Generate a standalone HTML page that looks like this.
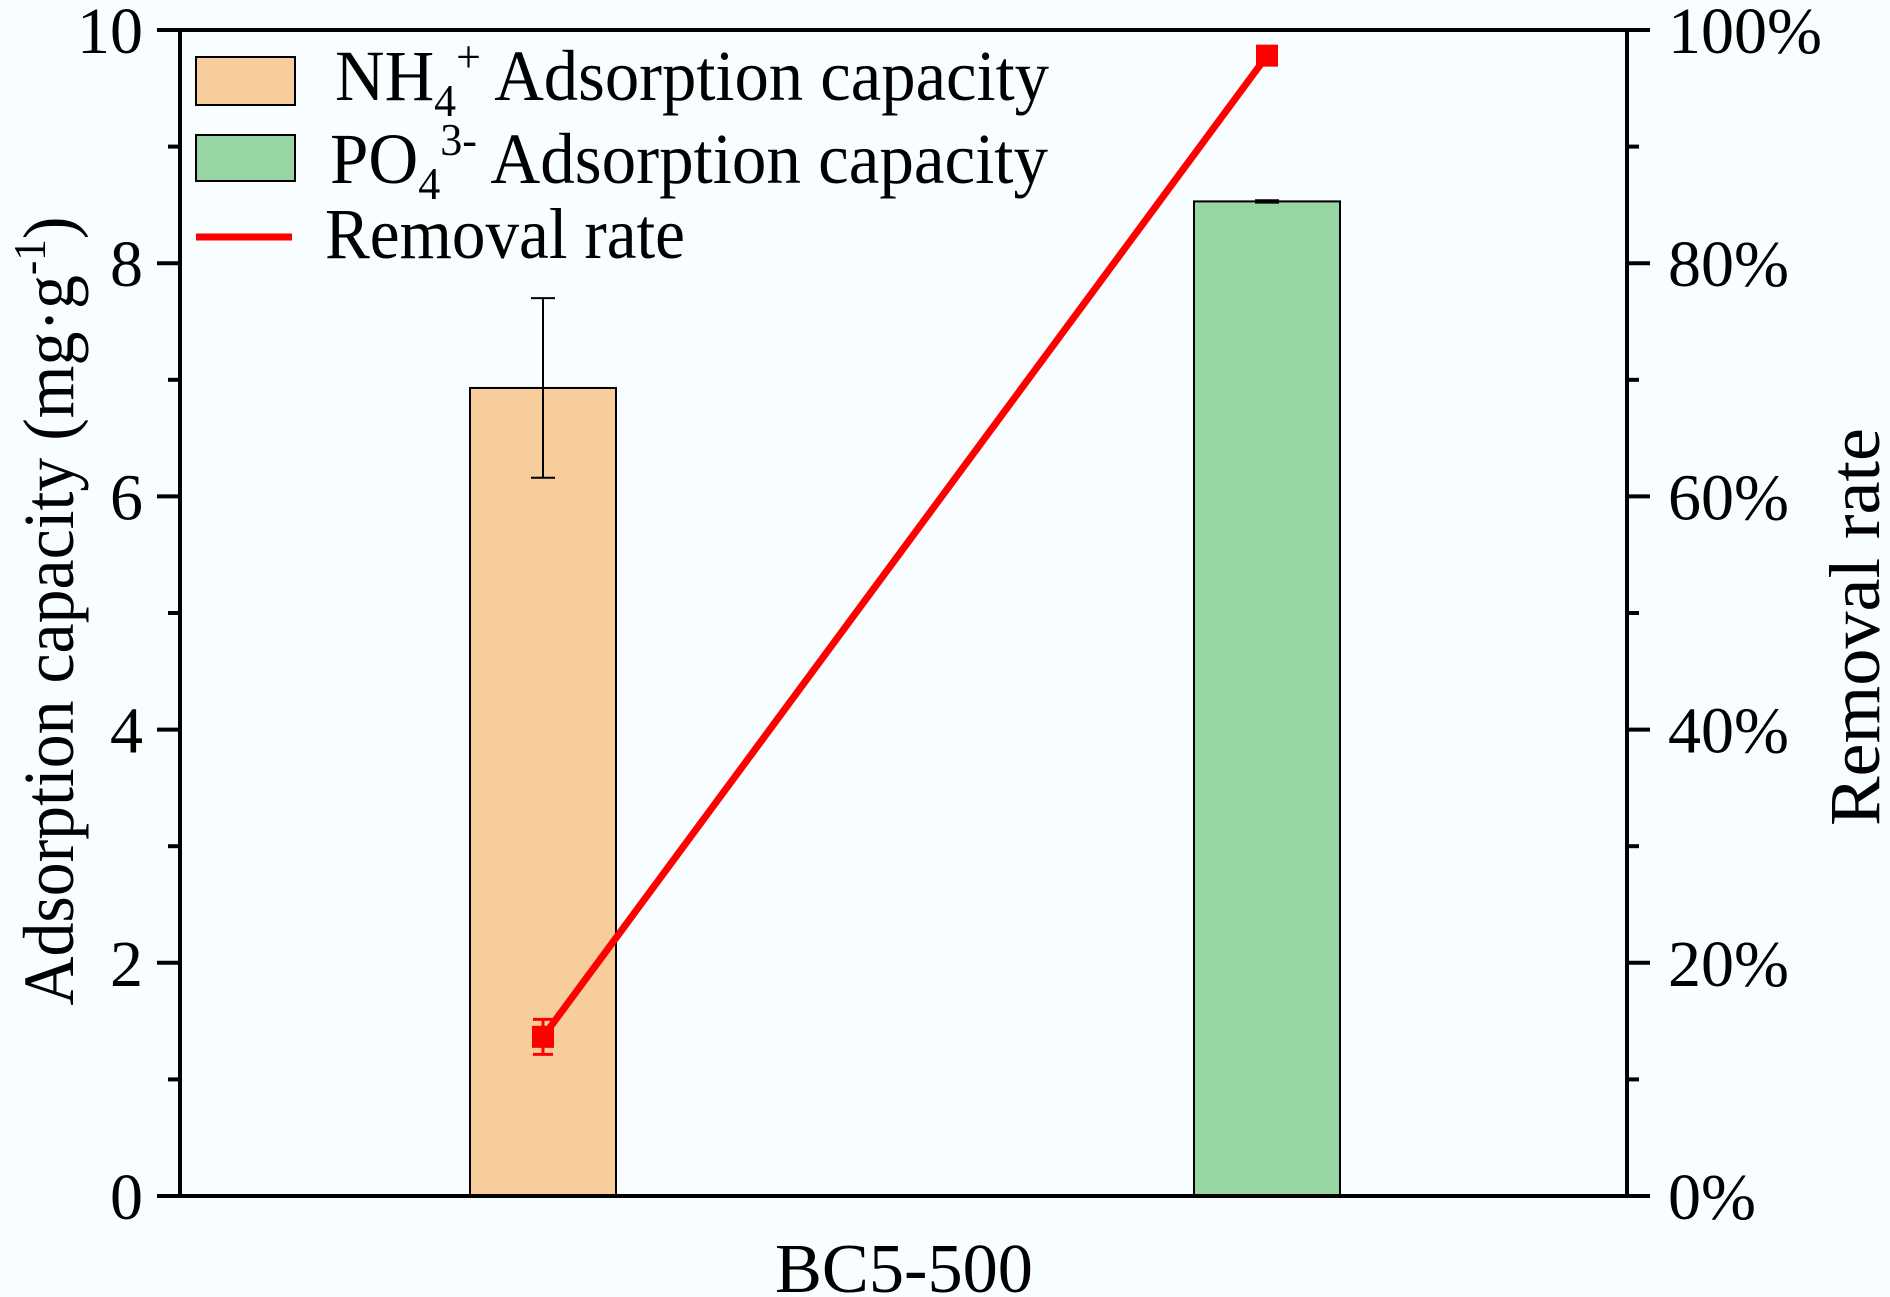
<!DOCTYPE html>
<html><head><meta charset="utf-8"><style>
html,body{margin:0;padding:0;background:#f8fdff;}
svg{display:block;}
text{font-family:"Liberation Serif",serif;fill:#000;}
</style></head><body>
<svg id="chart" width="1890" height="1297" viewBox="0 0 1890 1297" xmlns="http://www.w3.org/2000/svg">
<rect x="0" y="0" width="1890" height="1297" fill="#f8fdff"/>
<g id="plot"></g>
<rect x="180" y="30" width="1447" height="1166" fill="none" stroke="#000" stroke-width="4"/>
<g id="legend">
  <rect x="196" y="57" width="99" height="48" fill="#f8cd9c" stroke="#000" stroke-width="2"/>
  <text x="335" y="100" font-size="72" textLength="714" lengthAdjust="spacingAndGlyphs">NH<tspan font-size="46" dy="16">4</tspan><tspan font-size="46" dy="-44">+</tspan><tspan dy="28"> Adsorption capacity</tspan></text>
  <rect x="196" y="135" width="99" height="46" fill="#97d6a4" stroke="#000" stroke-width="2"/>
  <text x="330" y="183" font-size="72" textLength="718" lengthAdjust="spacingAndGlyphs">PO<tspan font-size="46" dy="16">4</tspan><tspan font-size="46" dy="-44">3-</tspan><tspan dy="28"> Adsorption capacity</tspan></text>
  <line x1="196" y1="237" x2="292" y2="237" stroke="#f00" stroke-width="7"/>
  <text x="325" y="258" font-size="72" textLength="360" lengthAdjust="spacingAndGlyphs">Removal rate</text>
</g>
<text transform="translate(73,611) rotate(-90)" text-anchor="middle" font-size="72" textLength="789" lengthAdjust="spacingAndGlyphs">Adsorption capacity (mg·g<tspan font-size="46" dy="-28">-1</tspan><tspan dy="28">)</tspan></text>
<text transform="translate(1879,627) rotate(-90)" text-anchor="middle" font-size="72" textLength="398" lengthAdjust="spacingAndGlyphs">Removal rate</text>
<text x="904" y="1292" text-anchor="middle" font-size="70" textLength="258" lengthAdjust="spacingAndGlyphs">BC5-500</text>
</svg>
<script>
const categories = ["NH4+", "PO43-"];
const capacityValues = [6.93, 8.53];
const capacityErrors = [0.77, 0.01];
const removalValues = [13.65, 97.8];
const removalErrors = [1.5, 0];
const leftTicks = [0, 2, 4, 6, 8, 10];
const leftTickLabels = ["0", "2", "4", "6", "8", "10"];
const rightTicks = [0, 20, 40, 60, 80, 100];
const rightTickLabels = ["0%", "20%", "40%", "60%", "80%", "100%"];

const NS = "http://www.w3.org/2000/svg";
const X0 = 180, X1 = 1627, Y0 = 1196, Y1 = 30;
const barCenters = [543, 1267];
const barW = 146;
const fills = ["#f8cd9c", "#97d6a4"];
function yL(v){ return Y0 - (v / 10) * (Y0 - Y1); }
function yR(v){ return Y0 - (v / 100) * (Y0 - Y1); }
function xC(i){ return barCenters[i]; }
const plot = document.getElementById('plot');
const svg = document.getElementById('chart');
function mk(tag, attrs, parent){
  const e = document.createElementNS(NS, tag);
  for (const k in attrs) e.setAttribute(k, attrs[k]);
  (parent || plot).appendChild(e);
  return e;
}
capacityValues.forEach((v, i) => {
  const r = mk('rect', {x: xC(i) - barW/2, y: yL(v), width: barW, height: Y0 - yL(v), fill: fills[i], stroke: '#000', 'stroke-width': 2});
  
  
  const e = capacityErrors[i];
  const g = mk('g', {stroke: '#000', 'stroke-width': 2});
  
  
  mk('line', {x1: xC(i), x2: xC(i), y1: yL(v + e), y2: yL(v - e)}, g);
  mk('line', {x1: xC(i) - 12, x2: xC(i) + 12, y1: yL(v + e), y2: yL(v + e)}, g);
  mk('line', {x1: xC(i) - 12, x2: xC(i) + 12, y1: yL(v - e), y2: yL(v - e)}, g);
});
const pts = removalValues.map((v, i) => xC(i) + ',' + yR(v)).join(' ');
const pl = mk('polyline', {points: pts, fill: 'none', stroke: '#f00', 'stroke-width': 7});


removalValues.forEach((v, i) => {
  const e = removalErrors[i];
  if (e > 0) {
    const g = mk('g', {stroke: '#f00', 'stroke-width': 3});
    
    
    mk('line', {x1: xC(i), x2: xC(i), y1: yR(v + e), y2: yR(v - e)}, g);
    mk('line', {x1: xC(i) - 10, x2: xC(i) + 10, y1: yR(v + e), y2: yR(v + e)}, g);
    mk('line', {x1: xC(i) - 10, x2: xC(i) + 10, y1: yR(v - e), y2: yR(v - e)}, g);
  }
  const m = mk('rect', {x: xC(i) - 11, y: yR(v) - 11, width: 22, height: 22, fill: '#f00'});
  
  
});
const axg = mk('g', {stroke: '#000', 'stroke-width': 4}, svg);


leftTicks.forEach((t, i) => {
  mk('line', {x1: X0 - 23, x2: X0, y1: yL(t), y2: yL(t)}, axg);
  if (i < leftTicks.length - 1) {
    const mid = (t + leftTicks[i+1]) / 2;
    mk('line', {x1: X0 - 12, x2: X0, y1: yL(mid), y2: yL(mid)}, axg);
  }
  const tx = mk('text', {x: 143, y: yL(t) + 23, 'text-anchor': 'end', 'font-size': 66}, svg);
  tx.textContent = leftTickLabels[i];
  
  
});
rightTicks.forEach((t, i) => {
  mk('line', {x1: X1, x2: X1 + 23, y1: yR(t), y2: yR(t)}, axg);
  if (i < rightTicks.length - 1) {
    const mid = (t + rightTicks[i+1]) / 2;
    mk('line', {x1: X1, x2: X1 + 12, y1: yR(mid), y2: yR(mid)}, axg);
  }
  const tx = mk('text', {x: 1668, y: yR(t) + 23, 'font-size': 66}, svg);
  tx.textContent = rightTickLabels[i];
  
  
});
</script>
</body></html>
